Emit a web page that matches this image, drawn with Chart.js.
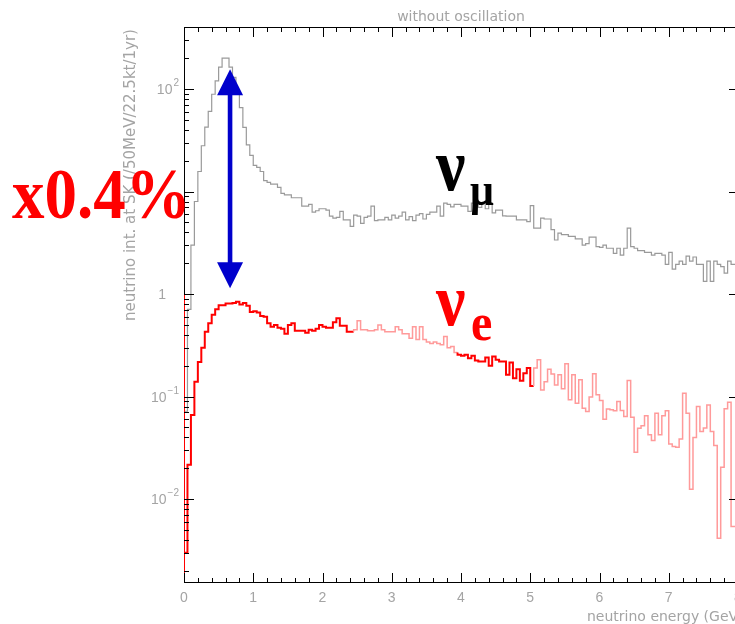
<!DOCTYPE html>
<html>
<head>
<meta charset="utf-8">
<script src="https://cdn.jsdelivr.net/npm/chart.js@4.4.0/dist/chart.umd.min.js"></script>
<style>
  html, body { margin: 0; padding: 0; background: #fff; overflow: hidden; }
  #wrap { width: 745px; height: 624px; }
</style>
</head>
<body>
<div id="wrap"><canvas id="chart" width="745" height="624"></canvas></div>
<script>
/* ---- data: neutrino interactions per 50 MeV bin, 0 - 8 GeV ---- */
const BIN_WIDTH = 0.05; // GeV

const numuEvents = [
  0.003, 0.072, 0.71, 3.0, 8.0, 15.7, 28, 42.6, 60.5, 89,
  120, 164, 200, 200, 164, 130, 90, 66, 42.3, 28.6,
  22.5, 18, 17.2, 15.7, 12.8, 12.3, 11.8, 11.8, 11.0, 9.6,
  9.3, 9.3, 8.7, 8.7, 8.7, 7.2, 7.2, 7.5, 6.3, 6.5,
  6.8, 6.8, 6.6, 5.75, 5.5, 5.6, 6.4, 5.3, 5.3, 4.57,
  5.9, 5.75, 4.9, 5.6, 5.75, 7.2, 5.2, 5.3, 5.3, 5.6,
  5.3, 5.9, 5.5, 5.75, 6.3, 5.3, 5.7, 5.2, 5.9, 6.1,
  5.4, 6.0, 6.3, 6.3, 7.2, 5.75, 7.7, 7.5, 7.1, 7.5,
  7.5, 7.2, 7.2, 6.4, 7.7, 7.7, 7.0, 7.7, 6.8, 7.7,
  6.2, 6.6, 6.6, 5.8, 5.75, 5.75, 5.75, 5.3, 5.3, 5.3,
  5.1, 7.3, 4.4, 4.4, 5.5, 5.4, 5.4, 4.25, 3.37, 3.93,
  3.8, 3.8, 3.65, 3.65, 3.45, 3.45, 3.0, 3.1, 3.6, 3.6,
  2.9, 2.85, 3.0, 2.8, 2.8, 2.5, 2.8, 2.4, 2.8, 4.4,
  2.9, 2.8, 2.65, 2.65, 2.55, 2.55, 2.4, 2.5, 2.5, 2.4,
  1.95, 2.55, 1.75, 1.95, 2.1, 1.95, 2.35, 2.1, 2.3, 1.95,
  1.95, 1.33, 2.1, 1.33, 2.1, 1.95, 1.85, 1.6, 2.1, 1.95
];

const nueEvents = [
  0.003, 0.003, 0.0216, 0.066, 0.14, 0.217, 0.30, 0.43, 0.52, 0.63,
  0.71, 0.78, 0.78, 0.81, 0.81, 0.82, 0.84, 0.79, 0.82, 0.77,
  0.67, 0.68, 0.66, 0.61, 0.60, 0.52, 0.48, 0.50, 0.47, 0.46,
  0.41, 0.50, 0.52, 0.44, 0.44, 0.44, 0.42, 0.45, 0.44, 0.46,
  0.50, 0.48, 0.47, 0.47, 0.53, 0.58, 0.49, 0.49, 0.43, 0.43,
  0.45, 0.55, 0.45, 0.45, 0.44, 0.44, 0.45, 0.50, 0.45, 0.43,
  0.43, 0.43, 0.48, 0.45, 0.41, 0.41, 0.37, 0.48, 0.36, 0.48,
  0.36, 0.34, 0.33, 0.34, 0.33, 0.32, 0.386, 0.30, 0.308, 0.269,
  0.256, 0.25, 0.256, 0.237, 0.25, 0.225, 0.22, 0.22, 0.241, 0.20,
  0.246, 0.229, 0.22, 0.22, 0.163, 0.215, 0.151, 0.185, 0.143, 0.169,
  0.19, 0.127, 0.19, 0.229, 0.116, 0.14, 0.185, 0.166, 0.130, 0.163,
  0.119, 0.209, 0.093, 0.163, 0.086, 0.146, 0.077, 0.0716, 0.099, 0.167,
  0.104, 0.0917, 0.060, 0.0755, 0.0743, 0.0727, 0.0895, 0.0733, 0.064, 0.1436,
  0.063, 0.0287, 0.049, 0.0519, 0.065, 0.0424, 0.0373, 0.069, 0.0424, 0.065,
  0.0727, 0.0344, 0.0326, 0.0321, 0.0385, 0.108, 0.069, 0.0125, 0.040, 0.080,
  0.0457, 0.0493, 0.0826, 0.0457, 0.0333, 0.00416, 0.0205, 0.076, 0.088, 0.0054
];

const xTickLabels = ["0", "1", "2", "3", "4", "5", "6", "7", "8"];
const yTickValues = [100, 1, 0.1, 0.01];
const yTickBases = ["10", "1", "10", "10"];
const yTickExps = ["2", "", "\u22121", "\u22122"];

/* ---- styling ---- */
const GREY_TXT = "#a4a4a4";
const SANS = '"Liberation Sans", Arial, sans-serif';
const WIDE = '"DejaVu Sans", sans-serif';
const SERIF = '"Liberation Serif", "Times New Roman", serif';
const darkRanges = [[0, 2.45], [3.95, 5.05]];   // parts of the nu_e line drawn in full red
const arrowAt = { x: 0.665, top: 156, bottom: 1.14 };

const isDark = (v) => darkRanges.some(([a, b]) => v >= a - 1e-6 && v < b - 1e-6);

const toSteps = (vals) =>
  vals.map((v, i) => ({ x: i * BIN_WIDTH, y: v }))
      .concat([{ x: vals.length * BIN_WIDTH, y: vals[vals.length - 1] }]);

/* ---- PAW style frame, ticks and labels ---- */
const pawFrame = {
  id: "pawFrame",
  afterDatasetsDraw(chart) {
    const { ctx, chartArea: a, scales: { x, y } } = chart;
    ctx.save();
    ctx.lineWidth = 1;
    ctx.strokeStyle = "#000";

    const line = (x1, y1, x2, y2) => { ctx.beginPath(); ctx.moveTo(x1, y1); ctx.lineTo(x2, y2); ctx.stroke(); };

    // frame
    const L = a.left + 0.5, T = a.top + 0.5, B = a.bottom - 0.5;
    line(a.left, T, a.right, T);
    line(a.left, B, a.right, B);
    const yOne = Math.round(y.getPixelForValue(1)) + 0.5;
    line(L, a.top, L, yOne);
    ctx.strokeStyle = "#ff0000";
    line(L, yOne, L, a.bottom);
    ctx.strokeStyle = "#000";

    // x ticks (bottom + top)
    for (let i = 0; i <= 40; i++) {
      const px = Math.round(x.getPixelForValue(i * 0.2)) + 0.5;
      const len = i % 5 === 0 ? 10 : 5;
      line(px, a.bottom, px, a.bottom - len);
      line(px, a.top, px, a.top + len);
    }

    // y ticks (log)
    for (let e = -3; e <= 2; e++) {
      for (let m = 1; m <= 9; m++) {
        const v = m * Math.pow(10, e);
        if (v < y.min || v > y.max) continue;
        const py = Math.round(y.getPixelForValue(v)) + 0.5;
        line(a.left, py, a.left + (m === 1 ? 10 : 5), py);
        if (m === 1) line(a.right, py, a.right - 9, py);
      }
    }

    // x tick labels
    ctx.fillStyle = GREY_TXT;
    ctx.font = "14px " + SANS;
    ctx.textAlign = "center";
    ctx.textBaseline = "alphabetic";
    xTickLabels.forEach((t, i) => ctx.fillText(t, x.getPixelForValue(i), 602));

    // y tick labels with exponents
    yTickValues.forEach((v, i) => {
      const py = y.getPixelForValue(v);
      const right = 179;
      ctx.textAlign = "right";
      let baseRight = a.left - 18;
      if (yTickExps[i]) {
        ctx.font = "10px " + SANS;
        ctx.fillText(yTickExps[i], right, py - 3);
        baseRight = right - ctx.measureText(yTickExps[i]).width - 1;
      }
      ctx.font = "14px " + SANS;
      ctx.fillText(yTickBases[i], baseRight, py + 5);
    });

    // title and axis titles
    ctx.font = "14px " + WIDE;
    ctx.textAlign = "center";
    ctx.fillText("without oscillation", (a.left + a.right) / 2, 21);
    ctx.textAlign = "left";
    ctx.fillText("neutrino energy (GeV)", 587, 621);

    ctx.save();
    ctx.translate(131, 175);
    ctx.rotate(-Math.PI / 2);
    ctx.font = "15px " + WIDE;
    ctx.textAlign = "center";
    ctx.textBaseline = "middle";
    ctx.fillText("neutrino int. at SK (/50MeV/22.5kt/1yr)", 0, 0);
    ctx.restore();

    ctx.restore();
  },
  afterDraw(chart) {
    const { ctx, scales: { x, y } } = chart;
    ctx.save();

    // double arrow between the two peaks
    const ax = x.getPixelForValue(arrowAt.x);
    const yTop = y.getPixelForValue(arrowAt.top);
    const yBot = y.getPixelForValue(arrowAt.bottom);
    const head = 26, half = 13;
    ctx.fillStyle = "#0000cc";
    ctx.fillRect(ax - 2.3, yTop + head - 1, 4.6, yBot - yTop - 2 * head + 2);
    ctx.beginPath();
    ctx.moveTo(ax, yTop); ctx.lineTo(ax - half, yTop + head); ctx.lineTo(ax + half, yTop + head); ctx.closePath();
    ctx.fill();
    ctx.beginPath();
    ctx.moveTo(ax, yBot); ctx.lineTo(ax - half, yBot - head); ctx.lineTo(ax + half, yBot - head); ctx.closePath();
    ctx.fill();

    const stretched = (txt, px, py, size, color, sy) => {
      ctx.save();
      ctx.translate(px, py);
      ctx.scale(1, sy);
      ctx.font = "bold " + size + "px " + SERIF;
      ctx.fillStyle = color;
      ctx.textAlign = "left";
      ctx.textBaseline = "alphabetic";
      ctx.fillText(txt, 0, 0);
      ctx.restore();
    };

    stretched("x0.4%", 12, 218, 65, "#ff0000", 1.1);
    stretched("\u03bd", 436, 190, 66, "#000000", 1.13);
    stretched("\u03bc", 470, 205, 42, "#000000", 1.1);
    stretched("\u03bd", 436, 325, 66, "#ff0000", 1.13);
    stretched("e", 471, 340, 48, "#ff0000", 1.08);

    ctx.restore();
  }
};

new Chart(document.getElementById("chart"), {
  type: "line",
  data: {
    datasets: [
      {
        label: "nu_e",
        data: toSteps(nueEvents),
        stepped: "after",
        borderColor: "#ff0000",
        borderWidth: 2,
        pointRadius: 0,
        fill: false,
        order: 0,
        segment: {
          borderColor: (c) => isDark(c.p0.parsed.x) ? "#ff0000" : "#ff9a9a",
          borderWidth: (c) => isDark(c.p0.parsed.x) ? 2 : 1.5,
        },
      },
      {
        label: "nu_mu",
        data: toSteps(numuEvents),
        stepped: "after",
        borderColor: "#9a9a9a",
        borderWidth: 1.2,
        pointRadius: 0,
        fill: false,
        order: 1,
      },
    ],
  },
  options: {
    responsive: false,
    animation: false,
    events: [],
    layout: { padding: { left: 184, top: 27, right: 7, bottom: 41 } },
    plugins: { legend: { display: false }, tooltip: { enabled: false } },
    scales: {
      x: { type: "linear", min: 0, max: 8, display: false },
      y: { type: "logarithmic", min: 0.00152, max: 403, display: false },
    },
  },
  plugins: [pawFrame],
});
</script>
</body>
</html>
